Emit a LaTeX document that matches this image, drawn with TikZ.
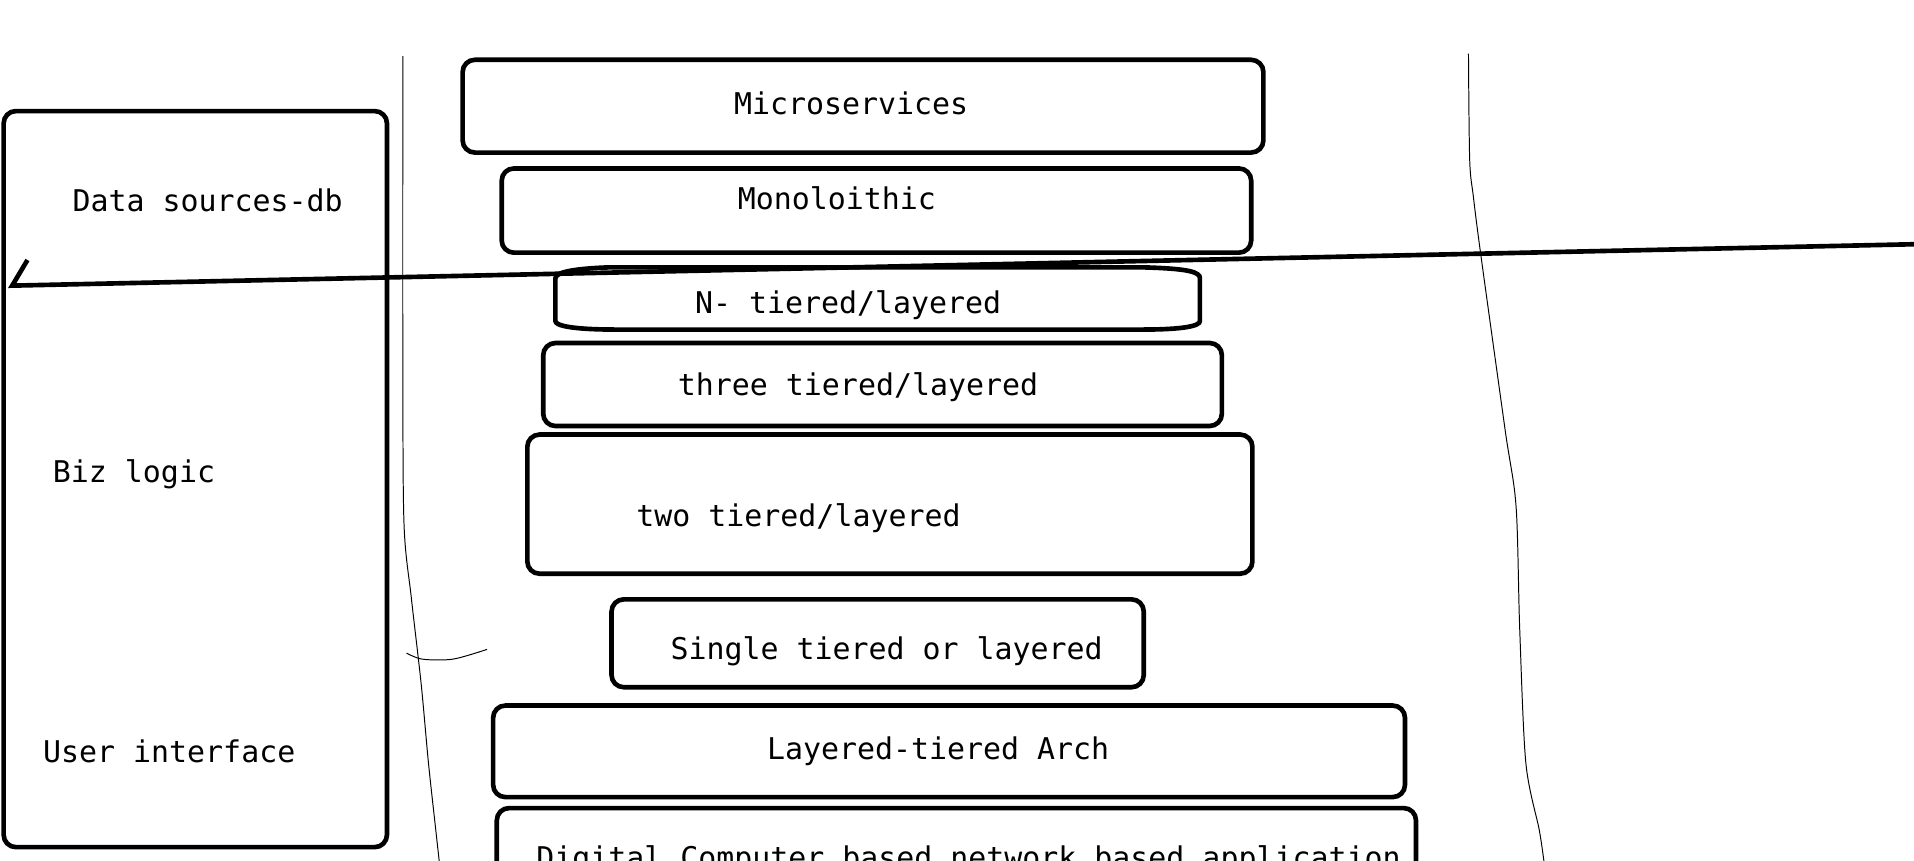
\documentclass[tikz,border=0pt]{standalone}
\usepackage{fontspec}
\newfontfamily\monofont{DejaVu Sans Mono}

\begin{document}
\begin{tikzpicture}[x=0.5pt, y=-0.5pt,
    boxline/.style={line width=1.9pt, rounded corners=5pt},
    thinline/.style={line width=0.4pt},
    lbl/.style={anchor=base west, inner sep=0pt, font=\monofont\fontsize{12.25pt}{14pt}\selectfont}]

    % Canvas
    \def\W{1568}
    \def\H{705}
    \useasboundingbox (0,0) rectangle (\W,\H);
    \clip (0,0) rectangle (\W,\H);

    % Left column
    \draw[boxline] (3,91) rectangle (317,694);
    \node[lbl] (datasrc) at (59,173.4) {Data sources-db};
    \node[lbl] (bizlogic) at (43,395) {Biz logic};
    \node[lbl] (userif) at (35,624.8) {User interface};

    % Hand drawn guide lines
    \draw[thinline] plot[smooth] coordinates {(330,46) (330,300) (331,430) (337,490) (345,560) (351,625) (357,680) (360,707)};
    \draw[thinline] plot[smooth] coordinates {(1203,44) (1204,131) (1207,161) (1213,208) (1233,352) (1242,415) (1245,516) (1250,625) (1261,680) (1265,707)};
    \draw[thinline] plot[smooth] coordinates {(333,535) (346,540) (371,540) (399,532)};

    % Stack of boxes
    \draw[boxline] (379,49)  rectangle (1035,125);
    \node[lbl] (micro) at (601,94.2) {Microservices};
    \draw[boxline] (411,138) rectangle (1025,207);
    \node[lbl] (mono) at (604,171.5) {Monoloithic};
    \draw[line width=1.9pt] (500,219) -- (935,219) .. controls (975,220) and (983,223) .. (983,228)
        -- (983,263) .. controls (983,267) and (970,270) .. (935,270)
        -- (505,270) .. controls (470,270) and (455,267) .. (455,263)
        -- (455,228) .. controls (455,223) and (470,220) .. (500,219) -- cycle;
    \node[lbl] (ntier) at (569,256.7) {N- tiered/layered};
    \draw[boxline] (445,281) rectangle (1001,349);
    \node[lbl] (three) at (555,324) {three tiered/layered};
    \draw[boxline] (432,356) rectangle (1026,470);
    \node[lbl] (two) at (521,431.4) {two tiered/layered};
    \draw[boxline] (501,491) rectangle (937,563);
    \node[lbl] (single) at (549,540) {Single tiered or layered};
    \draw[boxline] (404,578) rectangle (1151,653);
    \node[lbl] (arch) at (628,622.6) {Layered-tiered Arch};
    \draw[boxline] (407,662) rectangle (1160,760);
    \node[lbl] (digital) at (439,711.4) {Digital Computer based network based application};

    % Divider arrow
    \coordinate (tipR) at (1572,200);
    \coordinate (tipL) at (10,234);
    \coordinate (hook) at (22.5,213);
    \draw[line width=1.9pt] (tipR) -- (tipL) -- (hook);

\end{tikzpicture}
\end{document}
